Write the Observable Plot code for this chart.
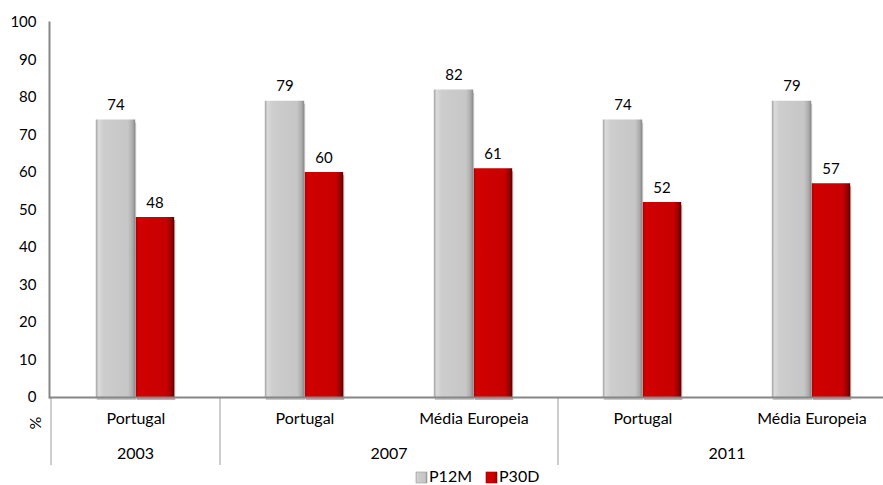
<!DOCTYPE html>
<html><head><meta charset="utf-8">
<script src="https://cdn.jsdelivr.net/npm/d3@7"></script>
<script src="https://cdn.jsdelivr.net/npm/@observablehq/plot@0.6"></script>
<style>body{margin:0;background:#fff}#chart svg{display:block}</style>
</head><body><div id="chart"></div>
<script>
// Survey waves and populations
const years = ["2003", "2007", "2007", "2011", "2011"];
const regions = ["Portugal", "Portugal", "Média Europeia", "Portugal", "Média Europeia"];
// Prevalence (%) — last 12 months / last 30 days
const p12m = [74, 79, 82, 74, 79];
const p30d = [48, 60, 61, 52, 57];
const yTicks = [0, 10, 20, 30, 40, 50, 60, 70, 80, 90, 100];
const seriesNames = ["P12M", "P30D"];

const keys = years.map((y, i) => `${y}|${regions[i]}`);
const rows = keys.map((k, i) => ({key: k, year: years[i], region: regions[i], p12m: p12m[i], p30d: p30d[i]}));
const groups = Array.from(d3.group(rows, d => d.year), ([year, rs]) => ({year, first: rs[0].key, last: rs[rs.length - 1].key}));

const FONT = "Lato, 'Open Sans', sans-serif";
const W = 883, H = 485;

// Gradient definitions plus the two-level category axis and the legend
function decorations(index, scales, values, dims) {
  const x = scales.x, y = scales.y;
  const bw = x.bandwidth();
  const y0 = y(0);
  const g = d3.create("svg:g");
  const defs = g.append("defs");
  const grey = defs.append("linearGradient").attr("id", "grad-grey").attr("x1", 0).attr("x2", 1).attr("y1", 0).attr("y2", 0);
  [[0, "#a2a2a2"], [0.07, "#dadada"], [0.2, "#cdcdcd"], [0.82, "#c6c6c6"], [0.93, "#acacac"], [1, "#888888"]]
    .forEach(([o, c]) => grey.append("stop").attr("offset", o).attr("stop-color", c));
  const red = defs.append("linearGradient").attr("id", "grad-red").attr("x1", 0).attr("x2", 1).attr("y1", 0).attr("y2", 0);
  [[0, "#a80000"], [0.07, "#d30000"], [0.2, "#cf0000"], [0.8, "#c80000"], [0.92, "#9a0000"], [1, "#5e0000"]]
    .forEach(([o, c]) => red.append("stop").attr("offset", o).attr("stop-color", c));

  // group separators and year labels
  groups.forEach(gp => {
    const x0 = x(gp.first), x1 = x(gp.last) + bw;
    g.append("line").attr("x1", x0).attr("x2", x0).attr("y1", y0).attr("y2", y0 + 68)
      .attr("stroke", "#9a9a9a").attr("stroke-width", 1);
    g.append("text").attr("x", (x0 + x1) / 2).attr("y", y0 + 62).attr("text-anchor", "middle")
      .attr("font-family", FONT).attr("font-size", 16).attr("fill", "#000").text(gp.year);
  });

  // unit label
  g.append("text").attr("transform", `translate(${dims.marginLeft - 12},${y0 + 26}) rotate(-90)`)
    .attr("text-anchor", "middle").attr("dominant-baseline", "middle")
    .attr("font-family", FONT).attr("font-size", 16).attr("fill", "#000").text("%");

  // legend
  const lg = g.append("g").attr("transform", `translate(416,${H - 3})`);
  let lx = 0;
  seriesNames.forEach((name, i) => {
    lg.append("rect").attr("x", lx).attr("y", -10).attr("width", 11).attr("height", 11)
      .attr("fill", i === 0 ? "url(#grad-grey)" : "url(#grad-red)").attr("stroke", i === 0 ? "#999" : "#900").attr("stroke-width", 0.6);
    lg.append("text").attr("x", lx + 13).attr("y", 0).attr("text-anchor", "start")
      .attr("font-family", FONT).attr("font-size", 16).attr("fill", "#000").text(name);
    lx += 70;
  });
  return g.node();
}

const half = (897 - 49) / 5 / 2; // half band width in px (band range set below)
const chart = Plot.plot({
  width: W,
  height: H,
  marginLeft: 49,
  marginRight: 0,
  marginTop: 22,
  marginBottom: 88,
  style: {fontFamily: FONT, fontSize: "15px", color: "#000", background: "#fff"},
  x: {domain: keys, range: [49, 897], padding: 0, label: null},
  y: {domain: [0, 100], label: null},
  marks: [
    decorations,
    // soft shadows below the bars
    Plot.barY(rows, {x: "key", y: "p12m", fill: "#888", fillOpacity: 0.45, dy: 3, dx: 1, insetLeft: half - 40, insetRight: half}),
    Plot.barY(rows, {x: "key", y: "p30d", fill: "#700", fillOpacity: 0.35, dy: 3, dx: 1, insetLeft: half, insetRight: half - 39}),
    // P12M and P30D bars
    Plot.barY(rows, {x: "key", y: "p12m", fill: "url(#grad-grey)", insetLeft: half - 40, insetRight: half}),
    Plot.barY(rows, {x: "key", y: "p30d", fill: "url(#grad-red)", insetLeft: half, insetRight: half - 39}),
    // axes
    Plot.ruleY([0], {stroke: "#868686", strokeWidth: 2}),
    Plot.frame({anchor: "left", stroke: "#868686", strokeWidth: 2}),
    Plot.axisY({ticks: yTicks, tickSize: 0, tickPadding: 13, label: null, fontSize: 15, fill: "#000", tickFormat: d => d}),
    Plot.axisX({tickSize: 0, tickPadding: 15, label: null, fontSize: 16, fill: "#000", tickFormat: k => k.split("|")[1]}),
    // value labels
    Plot.text(rows, {x: "key", y: "p12m", text: "p12m", dx: -20, dy: -10, lineAnchor: "bottom", fontSize: 15, fill: "#000"}),
    Plot.text(rows, {x: "key", y: "p30d", text: "p30d", dx: 19, dy: -10, lineAnchor: "bottom", fontSize: 15, fill: "#000"})
  ]
});
document.getElementById("chart").append(chart);
</script>
</body></html>
